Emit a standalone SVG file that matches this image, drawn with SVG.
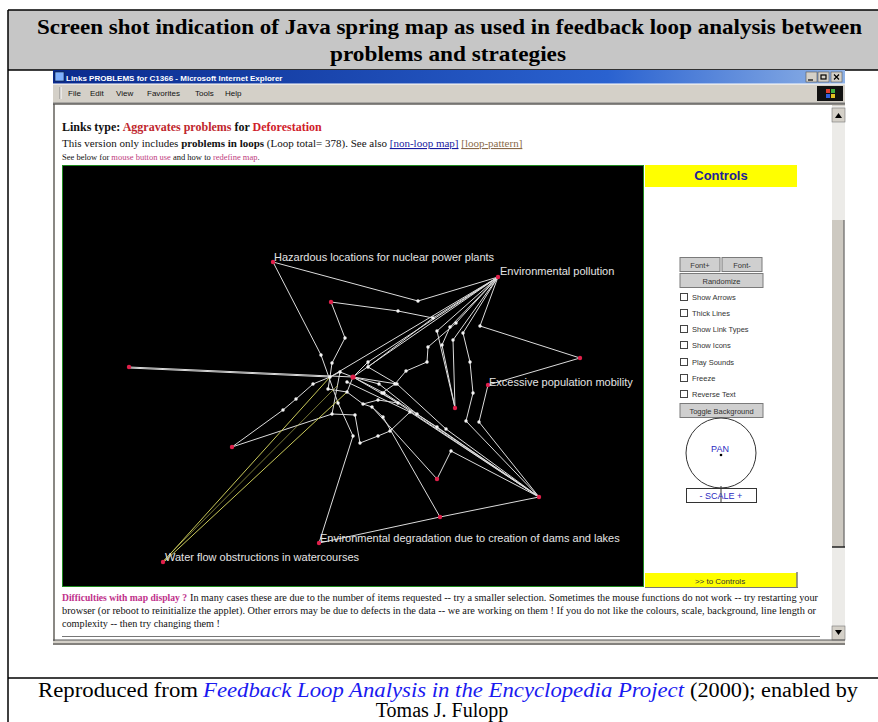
<svg xmlns="http://www.w3.org/2000/svg" width="878" height="722" viewBox="0 0 878 722">
<defs>
<linearGradient id="tbar" x1="0" y1="0" x2="1" y2="0">
<stop offset="0" stop-color="#0a2a8c"/>
<stop offset="0.7" stop-color="#2a62d0"/>
<stop offset="1" stop-color="#8fb2e6"/>
</linearGradient>
</defs>
<style>
.ttl{font-family:"Liberation Serif","Times New Roman",serif;font-weight:bold;font-size:22px;fill:#000}
.cap{font-family:"Liberation Serif","Times New Roman",serif;font-size:20px;fill:#000}
.cap-link{font-family:"Liberation Serif","Times New Roman",serif;font-size:20px;font-style:italic;fill:#1a1af0}
.ui{font-family:"Liberation Sans",Arial,sans-serif;font-size:8px;fill:#111}
.pg{font-family:"Liberation Serif","Times New Roman",serif;fill:#111}
.lbl{font-family:"Liberation Sans",Arial,sans-serif;font-size:11px;fill:#e4e4e4}
.ctl{font-family:"Liberation Sans",Arial,sans-serif;font-size:7.5px;fill:#333}
.btn{fill:#cfcfcf;stroke:#7a7a7a;stroke-width:1}
.cb{fill:#fff;stroke:#444;stroke-width:1}
.edges line{stroke:#dcdcdc;stroke-width:1}
.edges line.y{stroke:#c9c95a}
.wn{fill:#f4f4f4}
.rn{fill:#e0204a}
</style>

<!-- table frame -->
<rect x="8" y="10" width="880" height="60" fill="#c6c6c6"/>
<rect x="8" y="70" width="880" height="652" fill="#fff"/>
<line x1="8" y1="10" x2="878" y2="10" stroke="#000" stroke-width="1.5"/>
<line x1="8" y1="10" x2="8" y2="722" stroke="#000" stroke-width="1.5"/>
<line x1="8" y1="70" x2="878" y2="70" stroke="#000" stroke-width="1.5"/>
<line x1="8" y1="678" x2="878" y2="678" stroke="#000" stroke-width="1.5"/>

<text class="ttl" x="37" y="34" textLength="825" lengthAdjust="spacingAndGlyphs">Screen shot indication of Java spring map as used in feedback loop analysis between</text>
<text class="ttl" x="330" y="61" textLength="236" lengthAdjust="spacingAndGlyphs">problems and strategies</text>

<!-- browser window -->
<g id="browser">
<rect x="53" y="70" width="792" height="575" fill="#d4d0c8"/>
<rect x="53" y="70" width="792" height="14" fill="url(#tbar)"/>
<rect x="55" y="72" width="9" height="9" fill="#7fb0ff" stroke="#123" stroke-width="0.6"/>
<text x="66" y="80.5" font-family="Liberation Sans,Arial,sans-serif" font-size="8" font-weight="bold" fill="#fff">Links PROBLEMS for C1366 - Microsoft Internet Explorer</text>
<g fill="#d4d0c8" stroke="#555" stroke-width="0.6">
<rect x="806" y="72" width="11" height="10"/>
<rect x="818" y="72" width="11" height="10"/>
<rect x="831" y="72" width="11" height="10"/>
</g>
<g stroke="#000" stroke-width="1.2" fill="none">
<line x1="808" y1="80" x2="813" y2="80"/>
<rect x="821" y="75" width="5" height="4"/>
<path d="M834 74.5 L839 79.5 M839 74.5 L834 79.5"/>
</g>
<line x1="53" y1="84" x2="845" y2="84" stroke="#fff"/>
<line x1="60" y1="87" x2="60" y2="99" stroke="#888"/>
<line x1="61" y1="87" x2="61" y2="99" stroke="#fff"/>
<g class="ui">
<text x="68" y="96">File</text>
<text x="90" y="96">Edit</text>
<text x="116" y="96">View</text>
<text x="147" y="96">Favorites</text>
<text x="195" y="96">Tools</text>
<text x="225" y="96">Help</text>
</g>
<rect x="817" y="86" width="26" height="15" fill="#111"/>
<rect x="826" y="89" width="4" height="4" fill="#e04030"/>
<rect x="831" y="89" width="4" height="4" fill="#40b040"/>
<rect x="826" y="94" width="4" height="4" fill="#3060e0"/>
<rect x="831" y="94" width="4" height="4" fill="#e0c020"/>
<line x1="53" y1="103" x2="845" y2="103" stroke="#808080"/>
<line x1="53" y1="104" x2="845" y2="104" stroke="#404040"/>
<rect x="55" y="105" width="777" height="535" fill="#fff"/>
<line x1="54" y1="104" x2="54" y2="641" stroke="#404040"/>
<!-- vertical scrollbar -->
<rect x="832" y="106" width="13" height="534" fill="#ecebe8"/>
<rect x="832" y="108" width="13" height="14" fill="#d4d0c8" stroke="#777" stroke-width="0.6"/>
<path d="M835 118 L838.5 113 L842 118 Z" fill="#000"/>
<rect x="832" y="220" width="12" height="327" fill="#cdc9c1"/>
<line x1="844" y1="220" x2="844" y2="547" stroke="#555"/>
<line x1="832" y1="547" x2="845" y2="547" stroke="#222" stroke-width="1.5"/>
<rect x="832" y="626" width="13" height="14" fill="#d4d0c8" stroke="#777" stroke-width="0.6"/>
<path d="M835 630 L838.5 635 L842 630 Z" fill="#000"/>
<line x1="53" y1="640" x2="845" y2="640" stroke="#555"/>
<line x1="53" y1="644" x2="845" y2="644" stroke="#333"/>
</g>

<!-- page header text -->
<g id="header">
<text class="pg" x="62" y="131" font-size="12" font-weight="bold">Links type: <tspan fill="#c0272d">Aggravates problems</tspan> for <tspan fill="#d0202a">Deforestation</tspan></text>
<text class="pg" x="62" y="147" font-size="11">This version only includes <tspan font-weight="bold">problems in loops</tspan> (Loop total= 378). See also <tspan fill="#1a1aa0" text-decoration="underline">[non-loop map]</tspan> <tspan fill="#8a6a4a" text-decoration="underline">[loop-pattern]</tspan></text>
<text class="pg" x="62" y="160" font-size="8.5">See below for <tspan fill="#c03c80">mouse button use</tspan> and how to <tspan fill="#c03c80">redefine map</tspan>.</text>
</g>

<!-- applet: map area -->
<rect x="62.5" y="165.5" width="581" height="421" fill="#000" stroke="#1f8a1f" stroke-width="1"/>

<g id="connectors" class="edges">
<line x1="273" y1="262" x2="418" y2="301"/>
<line x1="418" y1="301" x2="498" y2="277"/>
<line x1="273" y1="262" x2="321" y2="355"/>
<line x1="321" y1="355" x2="338" y2="403"/>
<line x1="338" y1="403" x2="353" y2="436"/>
<line x1="353" y1="436" x2="319" y2="543"/>
<line x1="319" y1="543" x2="440" y2="517"/>
<line x1="440" y1="517" x2="539" y2="497"/>
<line x1="383" y1="417" x2="440" y2="517"/>
<line x1="129" y1="367" x2="353" y2="377"/>
<line x1="129" y1="368" x2="330" y2="377"/>
<line x1="498" y1="277" x2="353" y2="377"/>
<line x1="498" y1="277" x2="330" y2="377"/>
<line x1="498" y1="277" x2="368" y2="362"/>
<line x1="498" y1="277" x2="433" y2="318"/>
<line x1="433" y1="318" x2="398" y2="311"/>
<line x1="331" y1="302" x2="398" y2="311"/>
<line x1="331" y1="302" x2="345" y2="338"/>
<line x1="345" y1="338" x2="332" y2="363"/>
<line x1="332" y1="363" x2="330" y2="377"/>
<line x1="498" y1="277" x2="437" y2="331"/>
<line x1="498" y1="277" x2="450" y2="327"/>
<line x1="498" y1="277" x2="456" y2="323"/>
<line x1="498" y1="277" x2="453" y2="340"/>
<line x1="498" y1="277" x2="463" y2="333"/>
<line x1="498" y1="277" x2="480" y2="326"/>
<line x1="480" y1="326" x2="580" y2="358"/>
<line x1="580" y1="358" x2="488" y2="385"/>
<line x1="488" y1="385" x2="479" y2="422"/>
<line x1="463" y1="333" x2="470" y2="362"/>
<line x1="470" y1="362" x2="473" y2="393"/>
<line x1="473" y1="393" x2="466" y2="421"/>
<line x1="453" y1="340" x2="455" y2="408"/>
<line x1="437" y1="331" x2="455" y2="408"/>
<line x1="450" y1="327" x2="442" y2="345"/>
<line x1="442" y1="345" x2="455" y2="408"/>
<line x1="456" y1="323" x2="428" y2="347"/>
<line x1="428" y1="347" x2="427" y2="362"/>
<line x1="427" y1="362" x2="406" y2="371"/>
<line x1="406" y1="371" x2="395" y2="384"/>
<line x1="395" y1="384" x2="382" y2="393"/>
<line x1="433" y1="318" x2="368" y2="367"/>
<line x1="466" y1="421" x2="539" y2="497"/>
<line x1="479" y1="422" x2="539" y2="497"/>
<line x1="446" y1="429" x2="539" y2="497"/>
<line x1="437" y1="427" x2="539" y2="497"/>
<line x1="417" y1="414" x2="539" y2="497"/>
<line x1="410" y1="412" x2="539" y2="497"/>
<line x1="398" y1="403" x2="539" y2="497"/>
<line x1="353" y1="377" x2="398" y2="403"/>
<line x1="347" y1="382" x2="410" y2="412"/>
<line x1="379" y1="384" x2="417" y2="414"/>
<line x1="384" y1="393" x2="437" y2="427"/>
<line x1="397" y1="384" x2="446" y2="429"/>
<line x1="353" y1="377" x2="379" y2="384"/>
<line x1="353" y1="377" x2="384" y2="393"/>
<line x1="353" y1="377" x2="397" y2="384"/>
<line x1="451" y1="451" x2="539" y2="497"/>
<line x1="437" y1="479" x2="451" y2="451"/>
<line x1="372" y1="407" x2="437" y2="479"/>
<line x1="355" y1="415" x2="360" y2="443"/>
<line x1="360" y1="443" x2="378" y2="436"/>
<line x1="378" y1="436" x2="390" y2="431"/>
<line x1="390" y1="431" x2="410" y2="412"/>
<line x1="232" y1="447" x2="283" y2="410"/>
<line x1="283" y1="410" x2="296" y2="399"/>
<line x1="296" y1="399" x2="313" y2="384"/>
<line x1="313" y1="384" x2="330" y2="377"/>
<line x1="232" y1="447" x2="332" y2="414"/>
<line x1="332" y1="414" x2="355" y2="415"/>
<line x1="330" y1="377" x2="340" y2="372"/>
<line x1="340" y1="372" x2="353" y2="377"/>
<line x1="353" y1="377" x2="368" y2="362"/>
<line x1="368" y1="362" x2="368" y2="367"/>
<line x1="328" y1="389" x2="347" y2="392"/>
<line x1="347" y1="392" x2="363" y2="404"/>
<line x1="363" y1="404" x2="378" y2="400"/>
<line x1="378" y1="400" x2="398" y2="403"/>
<line x1="363" y1="404" x2="372" y2="407"/>
<line x1="372" y1="407" x2="383" y2="417"/>
<line x1="330" y1="377" x2="328" y2="389"/>
<line x1="353" y1="377" x2="347" y2="392"/>
<line x1="382" y1="393" x2="398" y2="403"/>
<line x1="368" y1="367" x2="397" y2="384"/>
<line x1="340" y1="372" x2="332" y2="414"/>
<line x1="163" y1="562" x2="330" y2="377" class="y"/>
<line x1="165" y1="561" x2="347" y2="392" class="y"/>
<line x1="164" y1="560" x2="338" y2="385" class="y" opacity="0.6"/>
</g>

<!-- map nodes -->
<g id="nodes">
<g class="wn">
<circle cx="418" cy="301" r="1.7"/><circle cx="398" cy="311" r="1.7"/><circle cx="345" cy="338" r="1.7"/>
<circle cx="321" cy="355" r="1.7"/><circle cx="332" cy="363" r="1.7"/><circle cx="330" cy="377" r="1.7"/>
<circle cx="340" cy="372" r="1.7"/><circle cx="347" cy="382" r="1.7"/><circle cx="368" cy="362" r="1.7"/>
<circle cx="368" cy="367" r="1.7"/><circle cx="379" cy="384" r="1.7"/><circle cx="397" cy="384" r="1.7"/>
<circle cx="384" cy="393" r="1.7"/><circle cx="398" cy="403" r="1.7"/><circle cx="313" cy="384" r="1.7"/>
<circle cx="296" cy="399" r="1.7"/><circle cx="283" cy="410" r="1.7"/><circle cx="338" cy="403" r="1.7"/>
<circle cx="363" cy="404" r="1.7"/><circle cx="378" cy="400" r="1.7"/><circle cx="355" cy="415" r="1.7"/>
<circle cx="332" cy="414" r="1.7"/><circle cx="328" cy="389" r="1.7"/><circle cx="347" cy="392" r="1.7"/>
<circle cx="372" cy="407" r="1.7"/><circle cx="383" cy="417" r="1.7"/><circle cx="353" cy="436" r="1.7"/>
<circle cx="360" cy="443" r="1.7"/><circle cx="378" cy="436" r="1.7"/><circle cx="390" cy="431" r="1.7"/>
<circle cx="433" cy="318" r="1.7"/><circle cx="437" cy="331" r="1.7"/><circle cx="450" cy="327" r="1.7"/>
<circle cx="456" cy="323" r="1.7"/><circle cx="453" cy="340" r="1.7"/><circle cx="463" cy="333" r="1.7"/>
<circle cx="480" cy="326" r="1.7"/><circle cx="442" cy="345" r="1.7"/><circle cx="428" cy="347" r="1.7"/>
<circle cx="427" cy="362" r="1.7"/><circle cx="406" cy="371" r="1.7"/><circle cx="395" cy="384" r="1.7"/>
<circle cx="382" cy="393" r="1.7"/><circle cx="470" cy="362" r="1.7"/><circle cx="473" cy="393" r="1.7"/>
<circle cx="466" cy="421" r="1.7"/><circle cx="479" cy="422" r="1.7"/><circle cx="410" cy="412" r="1.7"/>
<circle cx="417" cy="414" r="1.7"/><circle cx="437" cy="427" r="1.7"/><circle cx="446" cy="429" r="1.7"/>
<circle cx="451" cy="451" r="1.7"/>
</g>
<g class="rn">
<circle cx="273" cy="262" r="2.2"/><circle cx="498" cy="277" r="2.2"/><circle cx="129" cy="367" r="2.2"/>
<circle cx="353" cy="377" r="2.6"/><circle cx="331" cy="302" r="2.2"/><circle cx="488" cy="385" r="2.2"/>
<circle cx="580" cy="358" r="2.2"/><circle cx="455" cy="408" r="2.2"/><circle cx="163" cy="562" r="2.2"/>
<circle cx="319" cy="543" r="2.2"/><circle cx="232" cy="447" r="2.2"/><circle cx="539" cy="497" r="2.2"/>
<circle cx="440" cy="517" r="2.2"/><circle cx="437" cy="479" r="2.2"/>
</g>
</g>

<!-- map labels -->
<g id="labels">
<text class="lbl" x="274" y="261">Hazardous locations for nuclear power plants</text>
<text class="lbl" x="500" y="275">Environmental pollution</text>
<text class="lbl" x="489" y="386">Excessive population mobility</text>
<text class="lbl" x="320" y="542">Environmental degradation due to creation of dams and lakes</text>
<text class="lbl" x="165" y="561">Water flow obstructions in watercourses</text>
</g>

<!-- applet: controls panel -->
<g id="controls">
<rect x="645" y="165" width="152" height="22" fill="#ffff00"/>
<text x="721" y="180" text-anchor="middle" font-family="Liberation Sans,Arial,sans-serif" font-size="13" font-weight="bold" fill="#20209a">Controls</text>
<rect class="btn" x="680" y="257.5" width="40" height="14"/>
<rect class="btn" x="722" y="257.5" width="40" height="14"/>
<rect class="btn" x="680" y="273.5" width="83" height="14"/>
<text class="ctl" x="700" y="267.5" text-anchor="middle">Font+</text>
<text class="ctl" x="742" y="267.5" text-anchor="middle">Font-</text>
<text class="ctl" x="721.5" y="283.5" text-anchor="middle">Randomize</text>
<g>
<rect class="cb" x="680.5" y="293.5" width="7" height="7"/>
<rect class="cb" x="680.5" y="309.5" width="7" height="7"/>
<rect class="cb" x="680.5" y="325.5" width="7" height="7"/>
<rect class="cb" x="680.5" y="341.5" width="7" height="7"/>
<rect class="cb" x="680.5" y="358.5" width="7" height="7"/>
<rect class="cb" x="680.5" y="374.5" width="7" height="7"/>
<rect class="cb" x="680.5" y="390.5" width="7" height="7"/>
</g>
<text class="ctl" x="692" y="300">Show Arrows</text>
<text class="ctl" x="692" y="316">Thick Lines</text>
<text class="ctl" x="692" y="332">Show Link Types</text>
<text class="ctl" x="692" y="348">Show Icons</text>
<text class="ctl" x="692" y="365">Play Sounds</text>
<text class="ctl" x="692" y="381">Freeze</text>
<text class="ctl" x="692" y="397">Reverse Text</text>
<rect class="btn" x="680" y="403.5" width="83" height="14"/>
<text class="ctl" x="721.5" y="413.5" text-anchor="middle">Toggle Background</text>
<circle cx="721" cy="453" r="35" fill="none" stroke="#333" stroke-width="1"/>
<text x="720" y="452" text-anchor="middle" font-family="Liberation Sans,Arial,sans-serif" font-size="9" fill="#2a2ac0">PAN</text>
<circle cx="721" cy="455" r="1.3" fill="#000"/>
<rect x="686.5" y="488.5" width="70" height="14" fill="#fff" stroke="#333"/>
<line x1="721" y1="486" x2="721" y2="502" stroke="#333"/>
<text x="721" y="498.5" text-anchor="middle" font-family="Liberation Sans,Arial,sans-serif" font-size="9" fill="#2a2ac0">- SCALE +</text>
<rect x="645" y="573" width="152" height="14" fill="#ffff00"/>
<line x1="797" y1="572" x2="797" y2="588" stroke="#777" stroke-width="1.5"/>
<line x1="645" y1="587.5" x2="798" y2="587.5" stroke="#777"/>
<text x="720" y="583.5" text-anchor="middle" font-family="Liberation Sans,Arial,sans-serif" font-size="8" fill="#333">&gt;&gt; to Controls</text>
</g>

<!-- notes under the map -->
<g id="notes" class="pg" font-size="9.3">
<text x="62" y="601" textLength="125" lengthAdjust="spacingAndGlyphs" font-weight="bold" fill="#c0308a">Difficulties with map display ?</text>
<text x="190" y="601" textLength="628" lengthAdjust="spacingAndGlyphs">In many cases these are due to the number of items requested -- try a smaller selection. Sometimes the mouse functions do not work -- try restarting your</text>
<text x="62" y="614" textLength="754" lengthAdjust="spacingAndGlyphs">browser (or reboot to reinitialize the applet). Other errors may be due to defects in the data -- we are working on them ! If you do not like the colours, scale, background, line length or</text>
<text x="62" y="627" textLength="158" lengthAdjust="spacingAndGlyphs">complexity -- then try changing them !</text>
<line x1="62" y1="636.5" x2="820" y2="636.5" stroke="#777"/>
</g>

<!-- caption -->
<g id="caption">
<text class="cap" x="38" y="697" textLength="160" lengthAdjust="spacingAndGlyphs">Reproduced from</text>
<text class="cap-link" x="203" y="697" textLength="481" lengthAdjust="spacingAndGlyphs">Feedback Loop Analysis in the Encyclopedia Project</text>
<text class="cap" x="690" y="697" textLength="168" lengthAdjust="spacingAndGlyphs">(2000); enabled by</text>
<text class="cap" x="442" y="717" text-anchor="middle">Tomas J. Fulopp</text>
</g>
</svg>
